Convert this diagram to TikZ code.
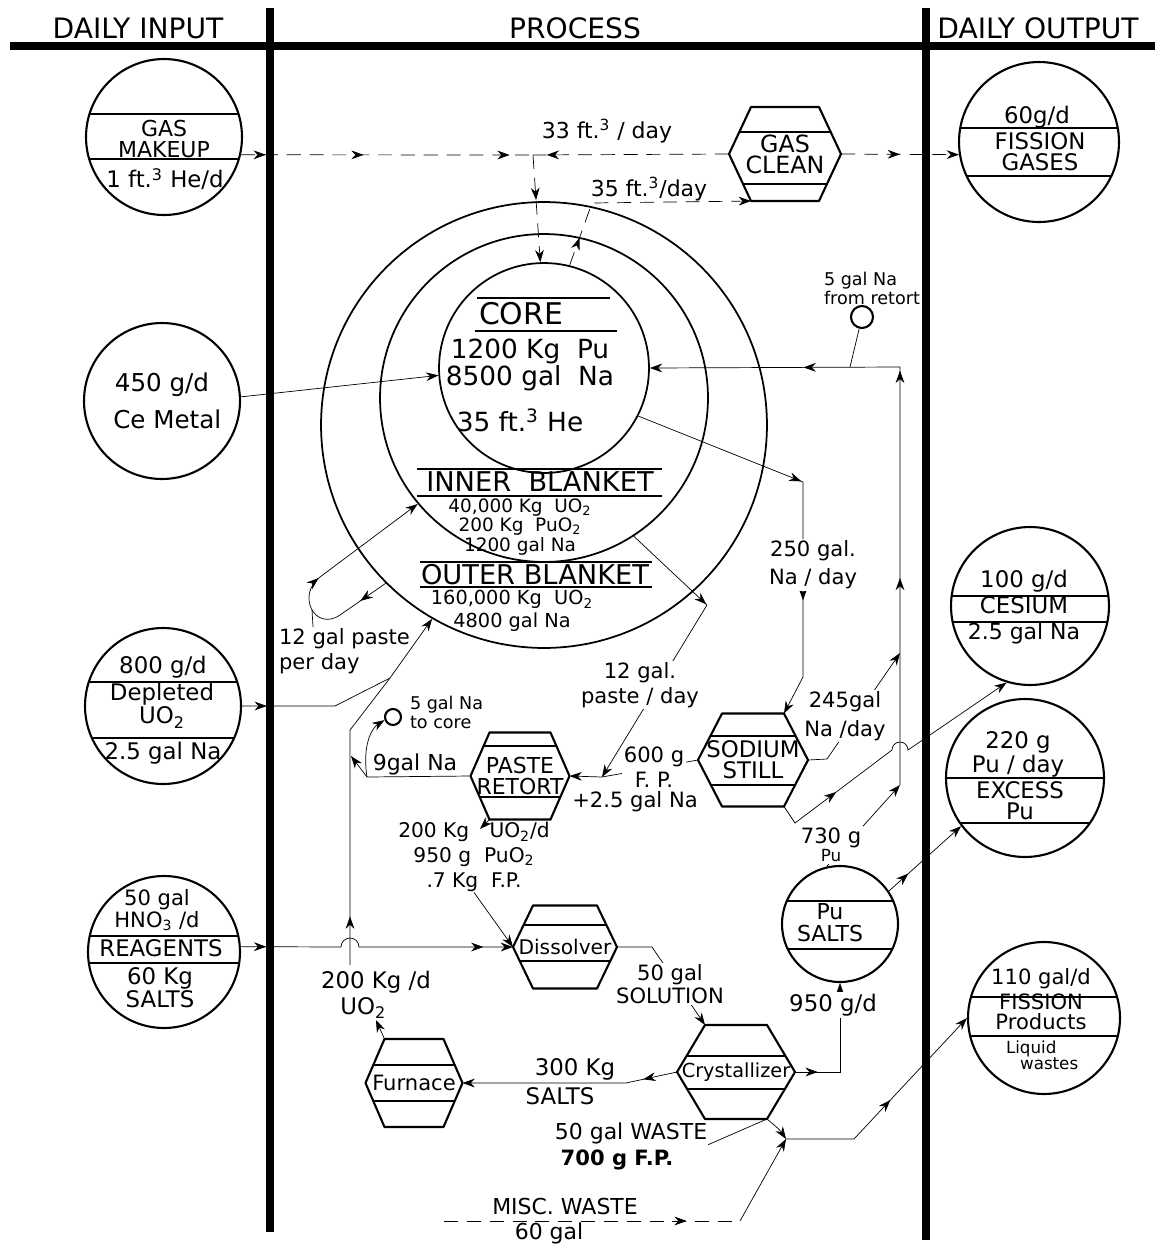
\documentclass[tikz,border=0pt]{standalone}
\usepackage{fontspec}
\setmainfont{DejaVu Sans}
\usepackage{tikz}
\usetikzlibrary{positioning, arrows.meta, calc, decorations.markings}
\pgfdeclarelayer{bg}
\pgfsetlayers{bg,main}

\newcommand{\hexbox}[9]{%
  \node[hexlbl, font=\fontsize{#8}{12}\selectfont] (#1) at (#2) {#9};
  \draw[hexline] ($(#1)+(-#3,0)$) coordinate (#1-w)
    -- ($(#1)+({-#3+#5},-#4)$) coordinate (#1-nw)
    -- ($(#1)+({#3-#5},-#4)$) coordinate (#1-ne)
    -- ($(#1)+(#3,0)$) coordinate (#1-e)
    -- ($(#1)+({#3-#5},#4)$) coordinate (#1-se)
    -- ($(#1)+({-#3+#5},#4)$) coordinate (#1-sw) -- cycle;
  \draw[hexline] ($(#1)+({-#3+#5*abs(#6)/#4},{#6})$) -- ($(#1)+({#3-#5*abs(#6)/#4},{#6})$)
    ($(#1)+({-#3+#5*abs(#7)/#4},{#7})$) -- ($(#1)+({#3-#5*abs(#7)/#4},{#7})$);
}

\begin{document}
\begin{tikzpicture}[x=0.02cm, y=-0.02cm, line width=1.2pt, >={Stealth[length=7pt,width=5pt]},
    flowtip/.style={postaction={decorate, decoration={markings, mark=at position #1 with {\arrow{>}}}}},
    chords/.style 2 args={path picture={\draw[line width=1.2pt]
      ($(path picture bounding box.center)+(-120,#1)$) -- +(240,0)
      ($(path picture bounding box.center)+(-120,#2)$) -- +(240,0);}}]
    \tikzstyle{bar} = [line width=4.2pt]
    \tikzstyle{drum} = [circle, draw, line width=1.2pt, inner sep=0pt]
    \tikzstyle{hexline} = [line width=1.2pt, line join=round]
    \tikzstyle{hexlbl} = [align=center, inner sep=0pt]
    \tikzstyle{gasflow} = [dash pattern=on 8pt off 5pt]
    \tikzstyle{hdr} = [font=\fontsize{16}{18}\selectfont]
    \tikzstyle{intext} = [font=\fontsize{13}{15}\selectfont, align=center, inner sep=0pt]
    \tikzstyle{coretext} = [font=\fontsize{15}{15.3}\selectfont, align=center, inner sep=0pt]
    \tikzstyle{blanktitle} = [font=\fontsize{15.5}{17}\selectfont, inner sep=0pt]
    \tikzstyle{blanktext} = [font=\fontsize{10.5}{9.2}\selectfont, align=center, inner sep=0pt]
    \tikzstyle{flowlbl} = [font=\fontsize{12}{14}\selectfont, align=center, inner sep=0pt]
    \tikzstyle{cover} = [flowlbl, fill=white, inner sep=1pt]
    \tikzstyle{small} = [font=\fontsize{10}{10.8}\selectfont, align=left, inner sep=0pt]

    \useasboundingbox (0,0) rectangle (1155,1245);

    \node[hdr] (inhead) at (138,28) {DAILY INPUT};
    \node[hdr] (prochead) at (575,28) {PROCESS};
    \node[hdr] (outhead) at (1038,28) {DAILY OUTPUT};
    \draw[bar] (10,46) -- (1155,46);
    \draw[bar] (270,8) -- (270,1232);
    \draw[bar] (926,8) -- (926,1240);

    % labels that sit on a flow line
    \node[cover] (naday) at (813,565) {250 gal.\\[1.9pt]Na / day};
    \node[cover] (nareturn) at (845,716) {245gal\\[2.4pt]Na /day};
    \node[cover] (pasteday) at (640,685) {12 gal.\\paste / day};
    \node[cover] (fplbl) at (654,767) {600 g\\F. P.};
    \node[flowlbl] (fpna) at (635,802) {+2.5 gal Na};
    \node[cover] (sollbl) at (670,984) {50 gal\\[-1pt]SOLUTION};
    \node[cover, font=\fontsize{13}{14}\selectfont] (pulbl) at (833,1005) {950 g/d};
    \node[cover, font=\fontsize{12}{10.2}\selectfont] (pugram) at (831,845) {730 g\\{\fontsize{9.5}{10}\selectfont Pu}};
    \node[flowlbl, font=\fontsize{12.5}{14}\selectfont] (gasin) at (607,131) {33 ft.\textsuperscript{3} / day};
    \node[flowlbl, font=\fontsize{12.5}{14}\selectfont] (gasout) at (649,189) {35 ft.\textsuperscript{3}/day};
    \node[flowlbl, align=left, anchor=north west, font=\fontsize{12}{14.2}\selectfont] (pastelbl) at (278,627) {12 gal paste\\per day};
    \node[flowlbl, font=\fontsize{12.5}{14}\selectfont] (ninegal) at (415,764) {9gal Na};
    \node[small, anchor=west] (tocorelbl) at (409,712) {5 gal Na\\to core};
    \node[small, anchor=west] (retnalbl) at (823,288) {5 gal Na\\from retort};
    \node[flowlbl, font=\fontsize{11.5}{14}\selectfont] (retortout) at (474,857) {200 Kg\quad UO\textsubscript{2}/d\\950 g\ \ PuO\textsubscript{2}\\.7 Kg\ \ F.P.};
    \node[flowlbl, align=left, anchor=west, font=\fontsize{13}{14.7}\selectfont] (uolbl) at (320,995) {200 Kg /d\\\hspace*{11pt}UO\textsubscript{2}};
    \node[flowlbl, font=\fontsize{13}{14}\selectfont] (saltkg) at (575,1069) {300 Kg};
    \node[flowlbl, font=\fontsize{13}{14}\selectfont] (saltlbl) at (560,1096) {SALTS};
    \node[flowlbl, font=\fontsize{12.5}{14}\selectfont] (wastelbl) at (631,1133) {50 gal WASTE};
    \node[flowlbl, font=\bfseries\fontsize{12}{14}\selectfont] (wastefp) at (617,1160) {700 g F.P.};
    \node[flowlbl, font=\fontsize{12.5}{14}\selectfont] (misclbl) at (565,1206) {MISC. WASTE};
    \node[flowlbl, font=\fontsize{12.5}{14}\selectfont] (miscgal) at (549,1233) {60 gal};

    % reactor
    \node[drum, line width=1pt, minimum size=4.2cm] (core) at (544,368) {};
    \node[drum, line width=1pt, minimum size=6.56cm] (inblank) at (544,398) {};
    \node[drum, line width=1pt, minimum size=8.92cm] (outblank) at (544,425) {};
    \node[font=\fontsize{17}{18}\selectfont, inner sep=0pt] (coretitle) at (521,314) {CORE};
    \draw (477,298) -- (610,298) (475,331) -- (617,331);
    \node[coretext] (corepu) at (530,365) {1200 Kg\ \ Pu\\8500 gal\ \ Na};
    \node[coretext] (corehe) at (520,420) {35 ft.\textsuperscript{3} He};
    \draw (417,469) -- (662,469) (417,496) -- (662,496);
    \node[blanktitle] (ibtitle) at (540,482) {INNER\ \ BLANKET};
    \node[blanktext] (ibtext) at (520,527) {40,000 Kg\ \ UO\textsubscript{2}\\200 Kg\ \ PuO\textsubscript{2}\\1200 gal Na};
    \draw (420,562) -- (652,562) (420,587) -- (652,587);
    \node[blanktitle] (obtitle) at (535,575) {OUTER BLANKET};
    \node[blanktext, font=\fontsize{11}{13}\selectfont] (obtext) at (512,611) {160,000 Kg\ \ UO\textsubscript{2}\\4800 gal Na};

    % daily input
    \node[drum, minimum size=3.12cm, chords={-23}{22}] (makeup) at (164,137) {};
    \node[intext, font=\fontsize{12.5}{12.5}\selectfont] (makeupa) at (164,139) {GAS\\MAKEUP};
    \node[intext] (makeupb) at (165,179) {1 ft.\textsuperscript{3} He/d};
    \node[drum, minimum size=3.12cm] (cemetal) at (162,401) {};
    \node[intext, font=\fontsize{14}{21}\selectfont] (cemeta) at (162,401) {450 g/d\\\hspace*{6pt}Ce Metal};
    \node[drum, minimum size=3.12cm, chords={-24}{32}] (depleted) at (163,706) {};
    \node[intext] (depa) at (163,667) {800 g/d};
    \node[intext, font=\fontsize{13}{13}\selectfont] (depb) at (162,706) {Depleted\\UO\textsubscript{2}};
    \node[intext] (depc) at (163,753) {2.5 gal Na};
    \node[drum, minimum size=3.04cm, chords={-16}{11}] (reagents) at (164,952) {};
    \node[intext, font=\fontsize{12}{11.3}\selectfont] (reaga) at (157,910) {50 gal\\HNO\textsubscript{3} /d};
    \node[intext] (reagb) at (161,948) {REAGENTS};
    \node[intext, font=\fontsize{13}{13}\selectfont] (reagc) at (160,988) {60 Kg\\SALTS};

    % daily output
    \node[drum, minimum size=3.2cm, chords={-14}{34}] (gases) at (1039,142) {};
    \node[intext] (gasesa) at (1037,117) {60g/d};
    \node[intext, font=\fontsize{13}{12}\selectfont] (gasesb) at (1040,152) {FISSION\\GASES};
    \node[drum, minimum size=3.16cm, chords={-10}{16}] (cesium) at (1030,606) {};
    \node[intext, font=\fontsize{13}{15}\selectfont] (cesa) at (1024,607) {100 g/d\\CESIUM\\{\fontsize{12.5}{14}\selectfont 2.5 gal Na}};
    \node[drum, minimum size=3.16cm, chords={0}{45}] (excess) at (1025,778) {};
    \node[intext, font=\fontsize{13}{13.6}\selectfont] (exa) at (1018,754) {220 g\\Pu / day};
    \node[intext, font=\fontsize{13}{12}\selectfont] (exb) at (1020,801) {EXCESS\\Pu};
    \node[drum, minimum size=3.04cm, chords={-21}{18}] (fprod) at (1044,1018) {};
    \node[intext, font=\fontsize{12}{11.2}\selectfont] (fpa) at (1041,999) {110 gal/d\\[1.8pt]FISSION\\Products};
    \node[intext, align=left, anchor=west, font=\fontsize{9.5}{9}\selectfont] (fpb) at (1005,1055) {Liquid\\\hspace*{8pt}wastes};
    \node[drum, minimum size=2.32cm, chords={-23}{25}] (pusalt) at (840,924) {};
    \node[intext, font=\fontsize{12.5}{12.5}\selectfont] (pusa) at (830,923) {Pu\\SALTS};

    % process vessels
    \hexbox{clean}{785,154}{56}{47}{22}{-22}{30}{13.5}{GAS\\CLEAN}
    \hexbox{still}{753,760}{55}{46.5}{24}{-24}{25}{13}{SODIUM\\STILL}
    \hexbox{retort}{520,776}{49.5}{43.5}{19}{-30}{21}{12.5}{PASTE\\RETORT}
    \hexbox{diss}{565,947}{52}{41.5}{20}{-22}{14}{11.5}{Dissolver}
    \hexbox{cryst}{736,1072}{59}{47}{28}{-16}{17}{11}{Crystallizer}
    \hexbox{furn}{414,1083}{48.5}{44}{19}{-18}{18}{12}{Furnace}
    \node[draw, circle, minimum size=0.44cm, inner sep=0pt] (retcirc) at (862,317) {};
    \node[draw, circle, minimum size=0.32cm, inner sep=0pt] (tocore) at (393,717) {};

    \coordinate (gasjoin) at (533,155);
    \coordinate (gasret) at (592,203);
    \coordinate (nacorner) at (900,367);
    \coordinate (puriser) at (900,785);
    \coordinate (najoin) at (900,653);
    \coordinate (retdrop) at (850,367);
    \coordinate (nadown) at (803,482);
    \coordinate (nabend) at (803,677);
    \coordinate (stillout) at (827,759);
    \coordinate (pastebend) at (707,605);
    \coordinate (pastejoin) at (602,777);
    \coordinate (nasplit) at (367,777);
    \coordinate (naret) at (351,756);
    \coordinate (uoup) at (350,965);
    \coordinate (uobend) at (350,730);
    \coordinate (uojoin) at (390,678);
    \coordinate (deplbend) at (335,706);
    \coordinate (loopa) at (340,615);
    \coordinate (loopb) at (320,577);
    \coordinate (loopc) at (312,610);
    \coordinate (retdown) at (480,829);
    \coordinate (solbend) at (652,947);
    \coordinate (saltbend) at (626,1083);
    \coordinate (pubend) at (840,1072);
    \coordinate (csbend) at (795,823);
    \coordinate (wastejoin) at (786,1139);
    \coordinate (miscstart) at (444,1221);
    \coordinate (miscend) at (740,1221);
    \coordinate (fpbend) at (854,1139);

    \begin{pgfonlayer}{bg}
    \draw[gasflow, flowtip=0.085, flowtip=0.42, flowtip=0.92] (makeup.-13) -- (gasjoin);
    \draw[gasflow, flowtip=0.93] (clean-w) -- (gasjoin);
    \draw[gasflow, flowtip=0.42, ->] (gasjoin) -- (core.92);
    \draw[gasflow, flowtip=0.13, ->] (core.76) -- (gasret) -- (clean-sw);
    \draw[gasflow, flowtip=0.5, ->] (clean-e) -- (gases.189);
    \draw[->] (cemetal.3) -- (core.184);
    \draw[->, flowtip=0.31, flowtip=0.62, flowtip=0.77] (puriser) -- (nacorner) -- (core.east);
    \draw (retcirc) -- (retdrop);
    \draw[->, flowtip=0.425, flowtip=0.715] (core.-27) -- (nadown) -- (nabend) -- (still-ne);
    \draw[->] (still-e) -- (stillout) -- (najoin);
    \draw[->, flowtip=0.33] (inblank.-57) -- (pastebend) -- (pastejoin);
    \draw (still-w) -- (pastejoin);
    \draw[->] (pastejoin) -- (retort-e);
    \draw[->] (retort-w) -- (nasplit) -- (naret);
    \draw[->] (nasplit) .. controls (362,745) and (372,728) .. (tocore.200);
    \draw[->] (retort-sw) -- (retdown);
    \draw[->] (retortout.south) -- (diss-w);
    \draw[->, flowtip=0.09, flowtip=0.895] (reagents.4) -- (341,947) arc[start angle=180, end angle=0, radius=0.18cm] -- (diss-w);
    \draw[->] (furn-nw) -- (uolbl.south);
    \draw[->, flowtip=0.13] (uoup) -- (uobend) -- (uojoin) -- (outblank.240);
    \draw[flowtip=0.16] (depleted.east) -- (deplbend) -- (uojoin);
    \draw[->, flowtip=0.125, flowtip=0.5] (outblank.225) -- (loopa) .. controls (315,632) and (296,595) .. (loopb) -- (inblank.220);
    \draw (pastelbl.143) -- (loopc);
    \draw[->] (diss-e) -- (solbend) -- (cryst-nw);
    \draw[->, flowtip=0.16] (cryst-w) -- (saltbend) -- (furn-e);
    \draw[->, flowtip=0.17] (cryst-e) -- (pubend) -- (pusalt.south);
    \draw[->] (pusalt.103) -- (puriser);
    \draw[->, flowtip=0.27] (pusalt.34) -- (excess.217);
    \draw[->, flowtip=0.25] (still-se) -- (csbend) -- (892,750) arc[start angle=180, end angle=0, radius=0.16cm] -- (cesium.253);
    \draw[->] (cryst-se) .. controls (780,1130) .. (wastejoin);
    \draw (wastelbl.south east) -- (cryst-se);
    \draw[gasflow, flowtip=0.82] (miscstart) -- (miscend);
    \draw[->] (miscend) -- (wastejoin);
    \draw[->, flowtip=0.52] (wastejoin) -- (fpbend) -- (fprod.west);
    \end{pgfonlayer}
\end{tikzpicture}
\end{document}
